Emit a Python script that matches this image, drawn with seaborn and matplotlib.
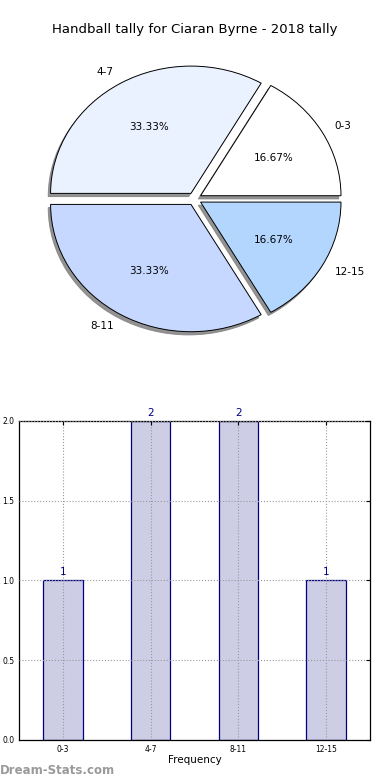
import matplotlib
matplotlib.use("Agg")
import matplotlib.pyplot as plt
import seaborn as sns

# tally buckets and counts
buckets = ["0-3", "4-7", "8-11", "12-15"]
counts = [1, 2, 2, 1]
pie_colors = ["#ffffff", "#eaf1ff", "#c6d8ff", "#b3d6ff"]
title = "Handball tally for Ciaran Byrne - 2018 tally"

sns.set_style("white")
plt.rcParams["font.family"] = ["DejaVu Sans"]
plt.rcParams.update({"text.color": "black", "axes.labelcolor": "black",
                     "xtick.color": "black", "ytick.color": "black"})

fig = plt.figure(figsize=(3.9, 7.8), dpi=100)

# pie (ellipse, like the old non-square axes)
ax1 = fig.add_axes([0.0487, 0.541, 0.9, 0.408])
wedges, texts, autotexts = ax1.pie(
    counts, labels=buckets, colors=pie_colors, explode=[0.05] * len(counts),
    autopct="%.2f%%",
    shadow={"ox": -0.012, "oy": -0.018, "facecolor": "#808080",
            "edgecolor": "#808080", "alpha": 0.85},
    startangle=0,
    wedgeprops={"edgecolor": "black", "linewidth": 0.7},
    textprops={"fontsize": 7.5, "color": "black"})
ax1.set_aspect("auto")
ax1.set_xlim(-1.25, 1.25)
ax1.set_ylim(-1.25, 1.25)
fig.text(0.5, 1 - 30 / 780, title, ha="center", va="center", fontsize=9.5)

# bar chart
ax2 = fig.add_axes([0.0487, 0.0513, 0.9, 0.409])
sns.barplot(x=buckets, y=counts, color="#cdcde6", edgecolor="navy",
            linewidth=0.9, width=0.45, saturation=1, ax=ax2, zorder=2)
for i, v in enumerate(counts):
    ax2.text(i, v + 0.02, str(v), ha="center", va="bottom", color="navy", fontsize=7.5)
ax2.set_xlim(-0.5, len(buckets) - 0.5)
ax2.set_ylim(0, 2.0)
ax2.set_yticks([0.0, 0.5, 1.0, 1.5, 2.0])
ax2.set_yticklabels([f"{t:.1f}" for t in [0.0, 0.5, 1.0, 1.5, 2.0]])
ax2.grid(True, ls=":", color="#999999", lw=0.8, zorder=3)
ax2.set_axisbelow(False)
ax2.tick_params(labelsize=5.5, direction="in", length=3, top=True, right=True)
ax2.set_xlabel("Frequency", fontsize=7.5, labelpad=1)
ax2.set_ylabel("")
for s in ax2.spines.values():
    s.set_color("black")
    s.set_linewidth(0.9)

fig.text(0.0, 1 - 770 / 780, "Dream-Stats.com", color="#9a9a9a",
         fontsize=8.5, fontweight="bold", ha="left", va="center")

fig.savefig("out.png", dpi=100)
